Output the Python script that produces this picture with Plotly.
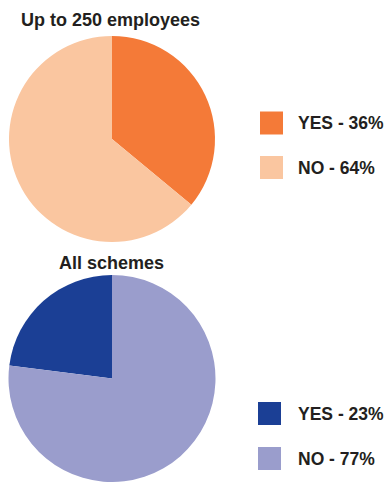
import plotly.graph_objects as go

W, H = 391, 482

# Data
labels = ["YES", "NO"]
top_title = "Up to 250 employees"
top_values = [36, 64]
bottom_title = "All schemes"
bottom_values = [23, 77]

top_colors = ["#F47A38", "#FAC6A0"]
bottom_colors = ["#1B3F95", "#9A9DCC"]
text_color = "#231F20"
font_family = "Liberation Sans, Arial, Helvetica, sans-serif"


def px_x(x):
    return x / W


def px_y(y):
    return 1 - y / H


fig = go.Figure()

fig.add_trace(go.Pie(
    labels=labels, values=top_values, sort=False, direction="clockwise",
    rotation=0, marker=dict(colors=top_colors, line=dict(width=0)),
    textinfo="none", showlegend=False, hole=0,
    domain=dict(x=[px_x(8), px_x(216)], y=[px_y(242), px_y(36)]),
))
# bottom pie: YES slice ends at 12 o'clock (drawn counter-clockwise from the top)
yes_angle = bottom_values[0] / sum(bottom_values) * 360
fig.add_trace(go.Pie(
    labels=labels, values=bottom_values, sort=False, direction="clockwise",
    rotation=-yes_angle, marker=dict(colors=bottom_colors, line=dict(width=0)),
    textinfo="none", showlegend=False, hole=0,
    domain=dict(x=[px_x(8), px_x(216)], y=[0, px_y(275)]),
))

annotations = []
shapes = []

# Titles
annotations.append(dict(text=f"<b>{top_title}</b>", x=px_x(110), y=px_y(20),
                        xref="paper", yref="paper", xanchor="center", yanchor="middle",
                        showarrow=False, font=dict(size=18, color=text_color, family=font_family)))
annotations.append(dict(text=f"<b>{bottom_title}</b>", x=px_x(111), y=px_y(263),
                        xref="paper", yref="paper", xanchor="center", yanchor="middle",
                        showarrow=False, font=dict(size=18, color=text_color, family=font_family)))

# Custom legends
legend_rows = [
    (top_values, top_colors, [123, 167.5], 260),
    (bottom_values, bottom_colors, [413.5, 458.5], 258),
]
for values, colors, ys, sx in legend_rows:
    for lab, val, col, yc in zip(labels, values, colors, ys):
        shapes.append(dict(type="rect", xref="paper", yref="paper",
                           x0=px_x(sx), x1=px_x(sx + 23), y0=px_y(yc + 11.5), y1=px_y(yc - 11.5),
                           fillcolor=col, line=dict(width=0)))
        annotations.append(dict(text=f"<b>{lab} - {val}%</b>", x=px_x(296), y=px_y(yc),
                                xref="paper", yref="paper", xanchor="left", yanchor="middle",
                                showarrow=False,
                                font=dict(size=17.5, color=text_color, family=font_family)))

fig.update_layout(
    width=W, height=H,
    margin=dict(l=0, r=0, t=0, b=0),
    paper_bgcolor="white", plot_bgcolor="white",
    annotations=annotations, shapes=shapes,
)

fig.write_html("out.html")
